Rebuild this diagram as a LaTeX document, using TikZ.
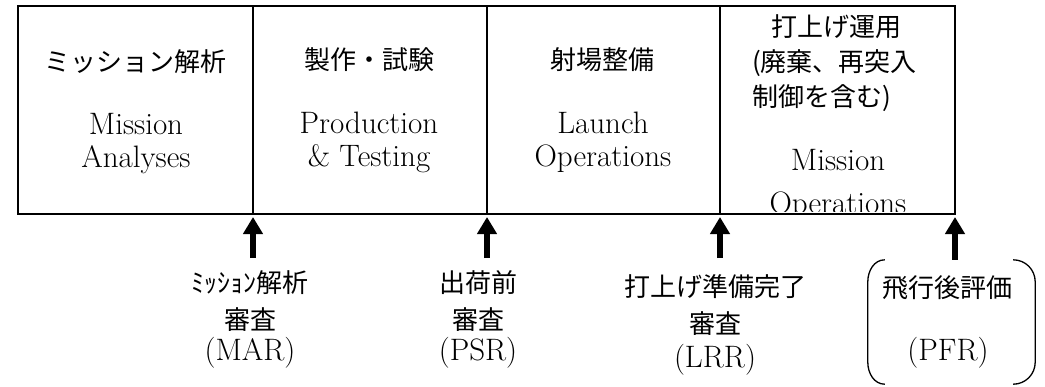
\documentclass[tikz,border=0pt]{standalone}
\usepackage{fontspec}
\newfontfamily\jp{Noto Sans CJK JP}
\usetikzlibrary{arrows.meta}
\begin{document}
\begin{tikzpicture}[x=1pt, y=-1pt,
    every node/.style={inner sep=0pt, font=\fontsize{31}{36}\selectfont},
    jpfont/.style={font=\fontsize{26}{34}\selectfont\jp},
    stage/.style={draw, line width=1.5pt, outer sep=0pt, minimum height=208pt},
    review/.style={line width=6pt, -{Triangle[width=19pt,length=17pt]}, shorten >=3pt}]
    \useasboundingbox (0,0) rectangle (1045,386);

    % phases
    \node[stage, minimum width=235pt] (s1) at (135.5,110) {};
    \node[stage, minimum width=234pt] (s2) at (370,110)   {};
    \node[stage, minimum width=233pt] (s3) at (603.5,110) {};
    \node[stage, minimum width=235pt] (s4) at (837.5,110) {};

    \node[jpfont] (t1) at (136,62) {ミッション解析};
    \node[anchor=base] (e1a) at (136,134) {Mission};
    \node[anchor=base] (e1b) at (136,167) {Analyses};

    \node[jpfont] (t2) at (369,60) {製作・試験};
    \node[anchor=base] (e2a) at (369,133) {Production};
    \node[anchor=base] (e2b) at (369,166) {\& Testing};

    \node[jpfont] (t3) at (602,60) {射場整備};
    \node[anchor=base] (e3a) at (603,133) {Launch};
    \node[anchor=base] (e3b) at (603,166) {Operations};

    \node[jpfont] (t4a) at (836,27) {打上げ運用};
    \node[jpfont, anchor=west] (t4b) at (752,63) {(廃棄、再突入};
    \node[jpfont, anchor=west] (t4c) at (752,98) {制御を含む)};
    \node[anchor=base] (e4a) at (838,170) {Mission};
    \begin{scope}
      \clip (s4.north west) rectangle ([yshift=3pt]s4.south east);
      \node[anchor=base] (e4b) at (838,213) {Operations};
    \end{scope}

    % reviews
    \node[jpfont] (mar1) at (250,283) {ﾐｯｼｮﾝ解析};
    \node[jpfont] (mar2) at (250,320) {審査};
    \node (mar3) at (250,353) {(MAR)};

    \node[jpfont] (psr1) at (478,283) {出荷前};
    \node[jpfont] (psr2) at (478,320) {審査};
    \node (psr3) at (478,353) {(PSR)};

    \node[jpfont] (lrr1) at (715,287) {打上げ準備完了};
    \node[jpfont] (lrr2) at (715,324) {審査};
    \node (lrr3) at (715,360) {(LRR)};

    \node[minimum width=167pt, minimum height=124pt] (pfrbox) at (951.5,322) {};
    \node[jpfont] (pfr1) at (947,288) {飛行後評価};
    \node (pfr2) at (948,353) {(PFR)};
    \draw[line width=1.3pt] ([xshift=17pt]pfrbox.north west) to[out=180,in=90] ([yshift=-22pt]pfrbox.north west)
        -- ([yshift=22pt]pfrbox.south west) to[out=-90,in=180] ([xshift=17pt]pfrbox.south west);
    \draw[line width=1.3pt] ([xshift=-22pt]pfrbox.north east) to[out=0,in=90] ([yshift=-22pt]pfrbox.north east)
        -- ([yshift=22pt]pfrbox.south east) to[out=-90,in=0] ([xshift=-22pt]pfrbox.south east);

    \coordinate (marA) at (253,258);
    \coordinate (psrA) at (487,258);
    \coordinate (lrrA) at (720,258);

    \draw[review] (marA) -- (s1.south east);
    \draw[review] (psrA) -- (s2.south east);
    \draw[review] (lrrA) -- (s3.south east);
    \draw[review] (s4.south east |- pfrbox.north) -- (s4.south east);
  \end{tikzpicture}
\end{document}
